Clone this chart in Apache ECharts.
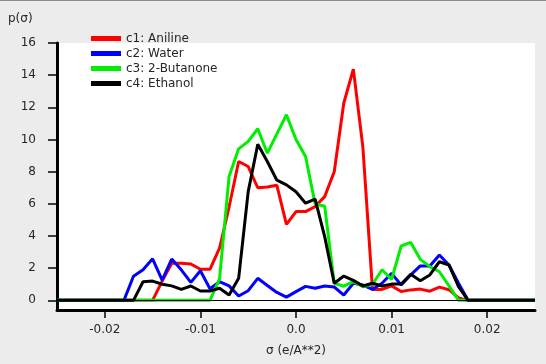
<!DOCTYPE html>
<html>
<head>
<meta charset="utf-8">
<script src="https://cdn.jsdelivr.net/npm/echarts@6/dist/echarts.min.js"></script>
<style>
html,body{margin:0;padding:0;background:#ececec;}
#chart{width:546px;height:364px;}
</style>
</head>
<body>
<div id="chart"></div>
<script>
const sigma = [-0.025,-0.024,-0.023,-0.022,-0.021,-0.020,-0.019,-0.018,-0.017,-0.016,-0.015,-0.014,-0.013,-0.012,-0.011,-0.010,-0.009,-0.008,-0.007,-0.006,-0.005,-0.004,-0.003,-0.002,-0.001,0.000,0.001,0.002,0.003,0.004,0.005,0.006,0.007,0.008,0.009,0.010,0.011,0.012,0.013,0.014,0.015,0.016,0.017,0.018,0.019,0.020,0.021,0.022,0.023,0.024,0.025];

const aniline = [0,0,0,0,0,0,0,0,0,0,0,1.2,2.3,2.3,2.26,1.93,1.93,3.24,5.8,8.63,8.32,7.0,7.05,7.15,4.72,5.52,5.52,5.83,6.45,8.0,12.27,14.38,9.5,0.68,0.68,0.9,0.55,0.65,0.7,0.57,0.82,0.66,0.15,0,0,0,0,0,0,0,0];
const water = [0,0,0,0,0,0,0,0,1.5,1.9,2.58,1.26,2.57,1.9,1.12,1.84,0.72,1.16,0.9,0.27,0.6,1.37,0.92,0.49,0.2,0.54,0.87,0.75,0.89,0.83,0.33,1.06,0.95,0.68,1.06,1.68,0.95,1.58,2.14,2.14,2.82,2.2,1.06,0,0,0,0,0,0,0,0];
const butanone = [0,0,0,0,0,0,0,0,0,0,0,0,0,0,0,0,0,1.33,7.7,9.42,9.88,10.67,9.15,10.35,11.54,10.0,8.94,6.0,5.85,1.06,0.88,1.16,0.85,1.0,1.9,1.3,3.38,3.6,2.55,2.1,1.78,0.9,0,0,0,0,0,0,0,0,0];
const ethanol = [0,0,0,0,0,0,0,0,0,1.16,1.2,1.0,0.9,0.68,0.89,0.58,0.58,0.75,0.33,1.37,6.76,9.7,8.63,7.47,7.18,6.75,6.04,6.29,3.96,1.06,1.51,1.24,0.89,1.06,0.89,1.01,1.01,1.62,1.22,1.58,2.4,2.2,0.85,0,0,0,0,0,0,0,0];

const seriesNames = ['c1: Aniline','c2: Water','c3: 2-Butanone','c4: Ethanol'];
const seriesColors = ['#ff0000','#0000ff','#00ee00','#000000'];
const seriesValues = [aniline, water, butanone, ethanol];

const xTickValues = [-0.02,-0.01,0,0.01,0.02];
const xTickLabels = ['-0.02','-0.01','0.0','0.01','0.02'];
const yTickValues = [0,2,4,6,8,10,12,14,16];
const yTickLabels = ['0','2','4','6','8','10','12','14','16'];

const textColor = '#262626';
const fontFamily = 'DejaVu Sans';

const chart = echarts.init(document.getElementById('chart'), null, {renderer:'canvas'});

const series = seriesNames.map((name, i) => {
  const s = {
    name: name,
    type: 'line',
    symbol: 'none',
    animation: false,
    lineStyle: {color: seriesColors[i], width: 3},
    itemStyle: {color: seriesColors[i]},
    data: sigma.map((x, j) => [x, seriesValues[i][j]])
  };
  if (i === 0) {
    s.markLine = {
      silent: true,
      symbol: ['none','none'],
      label: {show: false},
      lineStyle: {color: '#000', width: 1, type: 'solid'},
      data: [{yAxis: 0}],
      animation: false
    };
  }
  return s;
});

chart.setOption({
  backgroundColor: '#ececec',
  animation: false,
  textStyle: {fontFamily: fontFamily},
  grid: {
    left: 57, right: 11, top: 43, bottom: 54,
    show: true, backgroundColor: '#ffffff', borderWidth: 0
  },
  legend: {
    orient: 'vertical',
    left: 86, top: 26,
    itemWidth: 30, itemHeight: 5, itemGap: 0,
    icon: 'rect',
    textStyle: {color: textColor, fontSize: 12, fontFamily: fontFamily, lineHeight: 15},
    data: seriesNames.map((n, i) => ({name: n, itemStyle: {color: seriesColors[i]}}))
  },
  xAxis: {
    type: 'value',
    min: -0.025, max: 0.025,
    name: 'σ (e/A**2)',
    nameLocation: 'middle',
    nameGap: 35,
    nameTextStyle: {color: textColor, fontSize: 12, fontFamily: fontFamily},
    axisLine: {show: true, onZero: false, lineStyle: {color: '#000', width: 3}},
    axisTick: {show: true, length: 8, customValues: xTickValues, lineStyle: {color: '#000', width: 1.5}},
    axisLabel: {
      customValues: xTickValues, margin: 14,
      color: textColor, fontSize: 12, fontFamily: fontFamily,
      formatter: v => {
        const k = xTickValues.findIndex(t => Math.abs(t - v) < 1e-9);
        return k >= 0 ? xTickLabels[k] : '';
      }
    },
    splitLine: {show: false}
  },
  yAxis: {
    type: 'value',
    min: -0.6, max: 16,
    axisLine: {show: true, onZero: false, lineStyle: {color: '#000', width: 3}},
    axisTick: {show: true, length: 9, customValues: yTickValues, lineStyle: {color: '#000', width: 1.5}},
    axisLabel: {
      customValues: yTickValues, margin: 21,
      color: textColor, fontSize: 12, fontFamily: fontFamily,
      formatter: v => {
        const k = yTickValues.findIndex(t => Math.abs(t - v) < 1e-9);
        return k >= 0 ? yTickLabels[k] : '';
      }
    },
    splitLine: {show: false}
  },
  graphic: [
    {type: 'rect', left: 0, top: 0, shape: {width: 546, height: 1}, style: {fill: '#8a8a8a'}, silent: true},
    {type: 'text', left: 8, top: 13, style: {text: 'p(σ)', fill: textColor, font: '12px "DejaVu Sans"'}, silent: true}
  ],
  series: series
});
</script>
</body>
</html>
